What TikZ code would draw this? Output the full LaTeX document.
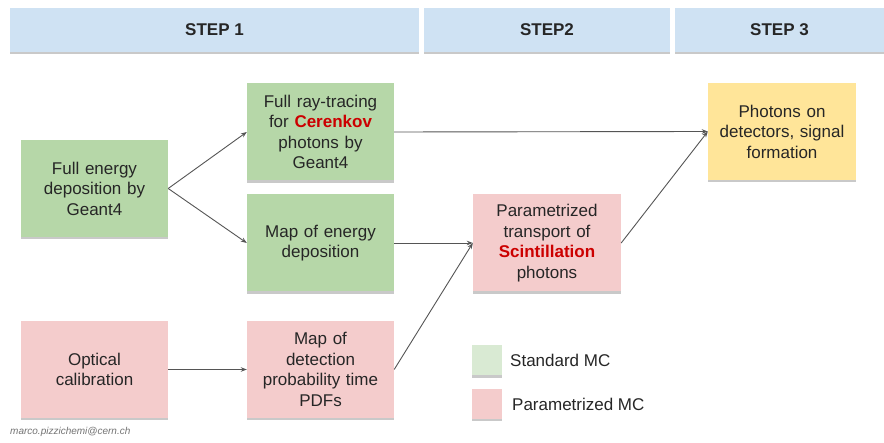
\documentclass[tikz,border=0pt]{standalone}
\usepackage{fontspec}
\setmainfont{Liberation Sans}
\usetikzlibrary{arrows.meta,shadows}
\definecolor{hdr}{HTML}{CFE2F3}
\definecolor{grn}{HTML}{B6D7A8}
\definecolor{lgrn}{HTML}{D9EAD3}
\definecolor{pnk}{HTML}{F4CCCC}
\definecolor{yel}{HTML}{FFE599}
\definecolor{txt}{HTML}{262626}
\definecolor{redt}{HTML}{CC0000}
\definecolor{arr}{HTML}{555555}
\tikzset{
  shad/.style={drop shadow={shadow xshift=0pt,shadow yshift=-2.5pt,opacity=0.35,fill=black!60}},
  hbar/.style={fill=hdr,draw=none,shad,inner sep=0pt,font=\fontsize{17}{20}\selectfont\bfseries,text=txt},
  box/.style={draw=none,shad,minimum width=147pt,minimum height=97pt,inner sep=2pt,align=center,
    font=\fontsize{17}{20.5}\selectfont,text=txt,text width=140pt},
  gbox/.style={box,fill=grn},
  pbox/.style={box,fill=pnk},
  ybox/.style={box,fill=yel},
  conn/.style={draw=arr,line width=0.9pt,-{Stealth[length=6pt,width=4.5pt]}},
  leg/.style={draw=none,shad,minimum width=30pt,minimum height=30pt,inner sep=0pt},
  legt/.style={anchor=west,font=\fontsize{17}{20}\selectfont,text=txt,inner sep=0pt},
}
\newcommand{\red}[1]{\textcolor{redt}{\textbf{#1}}}
\begin{document}
\begin{tikzpicture}[x=1pt,y=-1pt]
\useasboundingbox (0,0) rectangle (884,443);
\fill[white] (0,0) rectangle (884,443);
% header bars
\node[hbar,minimum width=409pt,minimum height=44pt] (s1) at (214.5,30) {STEP 1};
\node[hbar,minimum width=246pt,minimum height=44pt] (s2) at (547,30) {STEP2};
\node[hbar,minimum width=209pt,minimum height=44pt] (s3) at (779.5,30) {STEP 3};
% boxes
\node[gbox] (fed) at (94.5,188.5) {Full energy\\deposition by\\Geant4};
\node[gbox] (cer) at (320.5,132) {Full ray-tracing\\for \red{Cerenkov}\\photons by\\Geant4};
\node[gbox] (mape) at (320.5,243) {Map of energy\\deposition};
\node[pbox] (opt) at (94.5,369.5) {Optical\\calibration};
\node[pbox] (mapd) at (320.5,369.5) {Map of\\detection\\probability time\\PDFs};
\node[pbox,minimum width=148pt] (par) at (547,243) {Parametrized\\transport of\\\red{Scintillation}\\photons};
\node[ybox,minimum width=148pt] (det) at (782,131.5) {Photons on\\detectors, signal\\formation};
% connectors
\draw[conn] (fed.east) -- (cer.west);
\draw[conn] (fed.east) -- (mape.west);
\draw[conn] (cer.east) -- (det.west);
\draw[conn] (mape.east) -- (par.west);
\draw[conn] (opt.east) -- (mapd.west);
\draw[conn] (mapd.east) -- (par.west);
\draw[conn] (par.east) -- (det.west);
% legend
\node[leg,fill=lgrn] (lg) at (487,360.5) {};
\node[legt] (lgt) at (510,360) {Standard MC};
\node[leg,fill=pnk] (lp) at (487,404) {};
\node[legt] (lpt) at (512,404) {Parametrized MC};
% credit
\node[anchor=west,inner sep=0pt,font=\fontsize{10}{12}\selectfont\itshape,text=black!55] (mail) at (10,432) {marco.pizzichemi@cern.ch};
\end{tikzpicture}
\end{document}
